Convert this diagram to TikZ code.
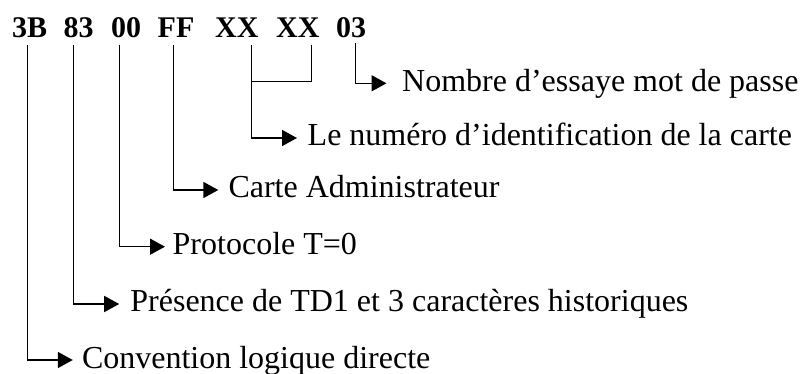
\documentclass[tikz,border=0pt]{standalone}
\usepackage{fontspec}
\setmainfont{Liberation Serif}
\usetikzlibrary{arrows.meta}
\begin{document}
\begin{tikzpicture}[x=1pt,y=-1pt,
  byte/.style={anchor=base west,inner sep=0pt,font=\fontsize{30}{36}\selectfont\bfseries},
  desc/.style={anchor=west,inner sep=0pt,text height=22.4pt,text depth=6.4pt,
    font=\fontsize{32}{38}\selectfont},
  wire/.style={line width=1.5pt,line cap=butt,line join=miter},
  arr/.style={wire,-{Triangle[length=15pt,width=16pt]}}]
\useasboundingbox (0,0) rectangle (801,374);

% the seven bytes of the answer to reset
\node[byte] (b1) at (12,37.7) {3B};
\node[byte] (b2) at (63.5,37.7) {83};
\node[byte] (b3) at (111,37.7) {00};
\node[byte] (b4) at (157.5,37.7) {FF};
\node[byte] (b5) at (215,37.7) {XX};
\node[byte] (b6) at (276,37.7) {XX};
\node[byte] (b7) at (336,37.7) {03};

% top ends of the leader lines
\coordinate (t1) at (27.5,45);
\coordinate (t2) at (73.3,45);
\coordinate (t3) at (119.7,45);
\coordinate (t4) at (173.3,45);
\coordinate (t5) at (251.7,45);
\coordinate (t6) at (311.7,45);
\coordinate (t7) at (355.7,43);
\coordinate (j) at (251.7,81.7);

% meaning of each byte
\node[desc] (d7) at (402,83.3) {Nombre d’essaye mot de passe};
\node[desc] (d5) at (307.5,138) {Le numéro d’identification de la carte};
\node[desc] (d4) at (228.3,190) {Carte Administrateur};
\node[desc] (d3) at (172.5,246.7) {Protocole T=0};
\node[desc] (d2) at (130.2,304) {Présence de TD1 et 3 caractères historiques};
\node[desc] (d1) at (81.8,360) {Convention logique directe};

% leaders
\draw[arr,shorten >=15.5pt] (t7) |- (d7);
\draw[wire] (t6) |- (j);
\draw[arr,shorten >=10.5pt] (t5) |- (d5);
\draw[arr,shorten >=10pt] (t4) |- (d4);
\draw[arr,shorten >=7.5pt] (t3) |- (d3);
\draw[arr,shorten >=11pt] (t2) |- (d2);
\draw[arr,shorten >=9pt] (t1) |- (d1);
\end{tikzpicture}
\end{document}
